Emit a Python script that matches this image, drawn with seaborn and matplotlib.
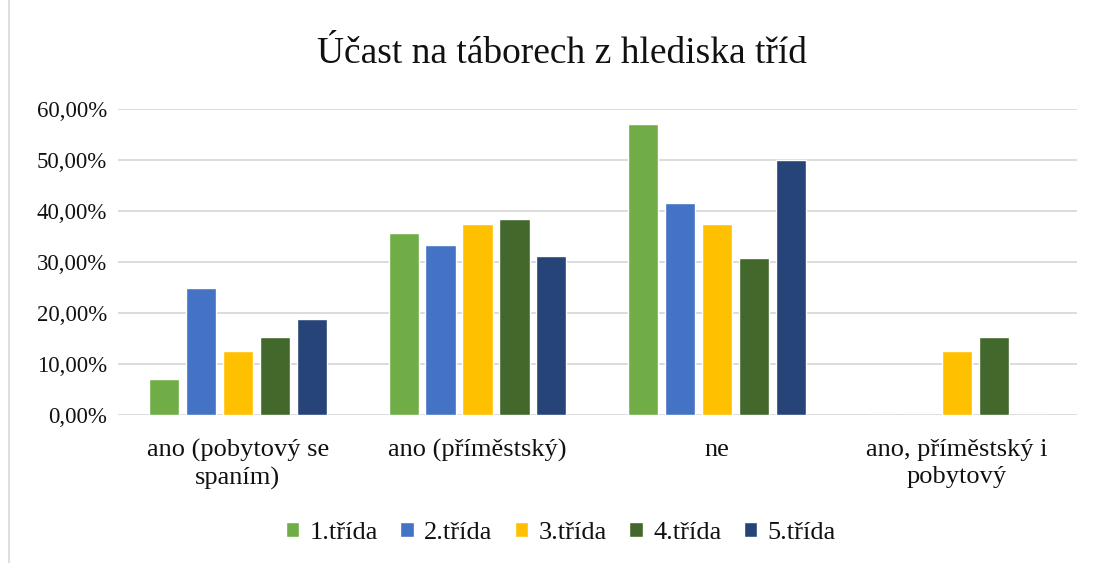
import pandas as pd
import matplotlib.pyplot as plt
import seaborn as sns
from matplotlib.lines import Line2D
from matplotlib.ticker import FuncFormatter

# data
kategorie = ["ano (pobytový se\nspaním)", "ano (příměstský)", "ne", "ano, příměstský i\npobytový"]
tridy = ["1.třída", "2.třída", "3.třída", "4.třída", "5.třída"]
trida_1 = [0.0714, 0.3571, 0.5714, 0.0]
trida_2 = [0.25, 0.3333, 0.4167, 0.0]
trida_3 = [0.125, 0.375, 0.375, 0.125]
trida_4 = [0.1538, 0.3846, 0.3077, 0.1538]
trida_5 = [0.1875, 0.3125, 0.50, 0.0]
barvy = ["#70AD47", "#4472C4", "#FFC000", "#43682B", "#264478"]

rows = []
for trida, vals in zip(tridy, [trida_1, trida_2, trida_3, trida_4, trida_5]):
    for kat, v in zip(kategorie, vals):
        rows.append({"kategorie": kat, "trida": trida, "podil": v})
df = pd.DataFrame(rows)

sns.set_style("white")
plt.rcParams["font.family"] = ["Liberation Serif", "DejaVu Serif"]

fig = plt.figure(figsize=(10.93, 5.63), dpi=100)
ax = fig.add_axes([0.108, 0.263, 0.877, 0.543])

sns.barplot(data=df, x="kategorie", y="podil", hue="trida", palette=barvy,
            saturation=1, width=0.77, gap=0.18, ax=ax, legend=True)

ax.set_ylim(0, 0.6)
ax.set_yticks([i / 10 for i in range(7)])
ax.yaxis.set_major_formatter(FuncFormatter(lambda v, p: f"{v * 100:.2f}%".replace(".", ",")))
ax.grid(axis="y", color="#D9D9D9", linewidth=1.3)
ax.set_axisbelow(True)
for s in ax.spines.values():
    s.set_visible(False)
ax.tick_params(axis="both", length=0, colors="#111111")
ax.tick_params(axis="y", labelsize=16.5, pad=8)
ax.tick_params(axis="x", labelsize=19, pad=17)
for lab in ax.get_xticklabels():
    lab.set_linespacing(1.3)
ax.set_xlabel("")
ax.set_ylabel("")

fig.text(0.514, 0.905, "Účast na táborech z hlediska tříd", fontsize=27,
         ha="center", va="center", color="#111111")

ax.legend(loc="center", bbox_to_anchor=(0.462, -0.385), ncol=5, frameon=False,
          fontsize=19, handlelength=0.5, handleheight=0.5, handletextpad=0.4,
          columnspacing=0.85, labelcolor="#111111")

fig.add_artist(Line2D([0.008, 0.008], [0, 1], color="#D9D9D9", linewidth=1.2,
                      transform=fig.transFigure))

fig.savefig("out.png", dpi=100)
